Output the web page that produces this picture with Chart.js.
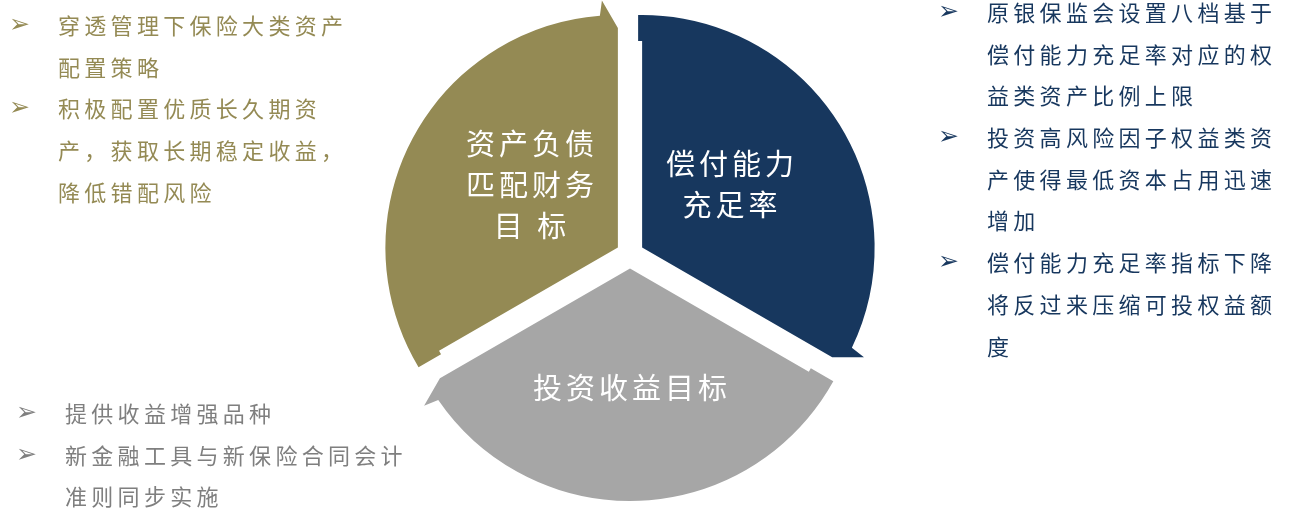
<!DOCTYPE html>
<html lang="zh-CN">
<head>
<meta charset="utf-8">
<title>资产负债匹配与偿付能力</title>
<script src="https://cdn.jsdelivr.net/npm/chart.js@4.4.1/dist/chart.umd.min.js"></script>
<style>
  html, body { margin: 0; padding: 0; background: #ffffff; }
  #stage { position: relative; width: 1292px; height: 511px; overflow: hidden; }
  #cycle { position: absolute; left: 0; top: 0; }
  .notes {
    position: absolute;
    font-family: 'Noto Sans CJK SC', sans-serif;
    font-size: 22px;
    letter-spacing: 4.3px;
    line-height: 41.7px;
    white-space: nowrap;
  }
  .notes .line { position: relative; height: 41.7px; }
  .notes .bullet {
    position: absolute;
    left: -49px;
    top: -1px;
    font-family: 'DejaVu Sans', sans-serif;
    font-size: 25px;
    letter-spacing: 0;
  }
</style>
</head>
<body>
<div id="stage">
  <canvas id="cycle" width="1292" height="511"></canvas>
  <div class="notes" id="almNotes" style="left:58px; top:4px; color:#948A54;"></div>
  <div class="notes" id="solvencyNotes" style="left:987px; top:-9px; color:#17375E;"></div>
  <div class="notes" id="incomeNotes" style="left:65px; top:392px; color:#7F7F7F;"></div>
</div>
<script>
// 三个环节按顺时针排列，各占三分之一圆周
const categories = ['偿付能力充足率', '投资收益目标', '资产负债匹配财务目标'];
const shares = [1, 1, 1];
const segmentLines = [['偿付能力', '充足率'], ['投资收益目标'], ['资产负债', '匹配财务', '目 标']];

// 各环节旁边的要点，每条要点按行拆开
const almNotes = [
    ['穿透管理下保险大类资产', '配置策略'],
    ['积极配置优质长久期资', '产，获取长期稳定收益，', '降低错配风险']
];
const solvencyNotes = [
    ['原银保监会设置八档基于', '偿付能力充足率对应的权', '益类资产比例上限'],
    ['投资高风险因子权益类资', '产使得最低资本占用迅速', '增加'],
    ['偿付能力充足率指标下降', '将反过来压缩可投权益额', '度']
];
const incomeNotes = [
    ['提供收益增强品种'],
    ['新金融工具与新保险合同会计', '准则同步实施']
];

const segmentColors = ['#17375E', '#A6A6A6', '#948A54'];

// 填充要点列表
function fillNotes(id, items) {
    const box = document.getElementById(id);
    items.forEach(item => {
        item.forEach((text, j) => {
            const line = document.createElement('div');
            line.className = 'line';
            if (j === 0) {
                const b = document.createElement('span');
                b.className = 'bullet';
                b.textContent = '➢';
                line.appendChild(b);
            }
            line.appendChild(document.createTextNode(text));
            box.appendChild(line);
        });
    });
}
fillNotes('almNotes', almNotes);
fillNotes('solvencyNotes', solvencyNotes);
fillNotes('incomeNotes', incomeNotes);

// 逐字绘制，字间留空
function drawSpaced(ctx, text, cx, cy, gap) {
    const chars = Array.from(text);
    const widths = chars.map(c => ctx.measureText(c).width);
    const total = widths.reduce((s, w) => s + w, 0) + gap * (chars.length - 1);
    let x = cx - total / 2;
    chars.forEach((c, i) => {
        ctx.fillText(c, x, cy);
        x += widths[i] + gap;
    });
}

// 把饼图的每一块画成带箭头的分段环
const segmentArrows = {
    id: 'segmentArrows',
    beforeDatasetsDraw(chart, args, opts) {
        const ctx = chart.ctx;
        const meta = chart.getDatasetMeta(0);
        const colors = chart.data.datasets[0].backgroundColor;
        ctx.save();
        meta.data.forEach((arc, i) => {
            const {x, y, startAngle, endAngle, outerRadius} =
                arc.getProps(['x', 'y', 'startAngle', 'endAngle', 'outerRadius'], true);
            const mid = (startAngle + endAngle) / 2;
            const cx = x + Math.cos(mid) * opts.gap;
            const cy = y + Math.sin(mid) * opts.gap;
            const R = outerRadius;
            const pt = (r, a) => [cx + Math.cos(a) * r, cy + Math.sin(a) * r];

            // 起始边外侧的小缺口
            const nA = startAngle - Math.PI / 2;
            const p1 = pt(R - opts.notchLen, startAngle);
            const p2 = [p1[0] + Math.cos(nA) * opts.notch, p1[1] + Math.sin(nA) * opts.notch];
            const aBack = endAngle - opts.back / R;

            ctx.beginPath();
            ctx.moveTo(cx, cy);
            ctx.lineTo(p1[0], p1[1]);
            ctx.lineTo(p2[0], p2[1]);
            ctx.arc(cx, cy, R, startAngle - opts.notch / R, aBack);
            const spike = pt(R + opts.spike, aBack + opts.lean / R);
            ctx.lineTo(spike[0], spike[1]);
            const tip = pt(R - opts.tip, endAngle);
            ctx.lineTo(tip[0], tip[1]);
            ctx.closePath();
            ctx.fillStyle = colors[i];
            ctx.fill();

            // 环节名称
            const place = opts.labels[i];
            const la = mid + place.turn * Math.PI / 180;
            const lx = cx + Math.cos(la) * R * place.r;
            const ly = cy + Math.sin(la) * R * place.r;
            const lines = segmentLines[i];
            ctx.fillStyle = '#ffffff';
            ctx.font = opts.font;
            ctx.textBaseline = 'middle';
            ctx.textAlign = 'left';
            lines.forEach((t, j) => {
                drawSpaced(ctx, t, lx, ly + (j - (lines.length - 1) / 2) * opts.lineHeight, opts.letterGap);
            });
        });
        ctx.restore();
        return false;
    }
};

new Chart(document.getElementById('cycle'), {
    type: 'pie',
    data: {
        labels: categories,
        datasets: [{
            data: shares,
            backgroundColor: segmentColors,
            borderWidth: 0
        }]
    },
    options: {
        responsive: false,
        devicePixelRatio: 1,
        animation: false,
        events: [],
        layout: { padding: { left: 396, right: 428, top: 22, bottom: 24 } },
        plugins: {
            legend: { display: false },
            tooltip: { enabled: false },
            segmentArrows: {
                gap: 14,
                notch: 4,
                notchLen: 26,
                back: 18,
                spike: 15,
                lean: 3,
                tip: 13,
                font: '29px "Noto Sans CJK SC"',
                letterGap: 4,
                lineHeight: 41,
                labels: [
                    { r: 0.465, turn: -5.6 },
                    { r: 0.512, turn: 0 },
                    { r: 0.465, turn: 5.6 }
                ]
            }
        }
    },
    plugins: [segmentArrows]
});
</script>
</body>
</html>
